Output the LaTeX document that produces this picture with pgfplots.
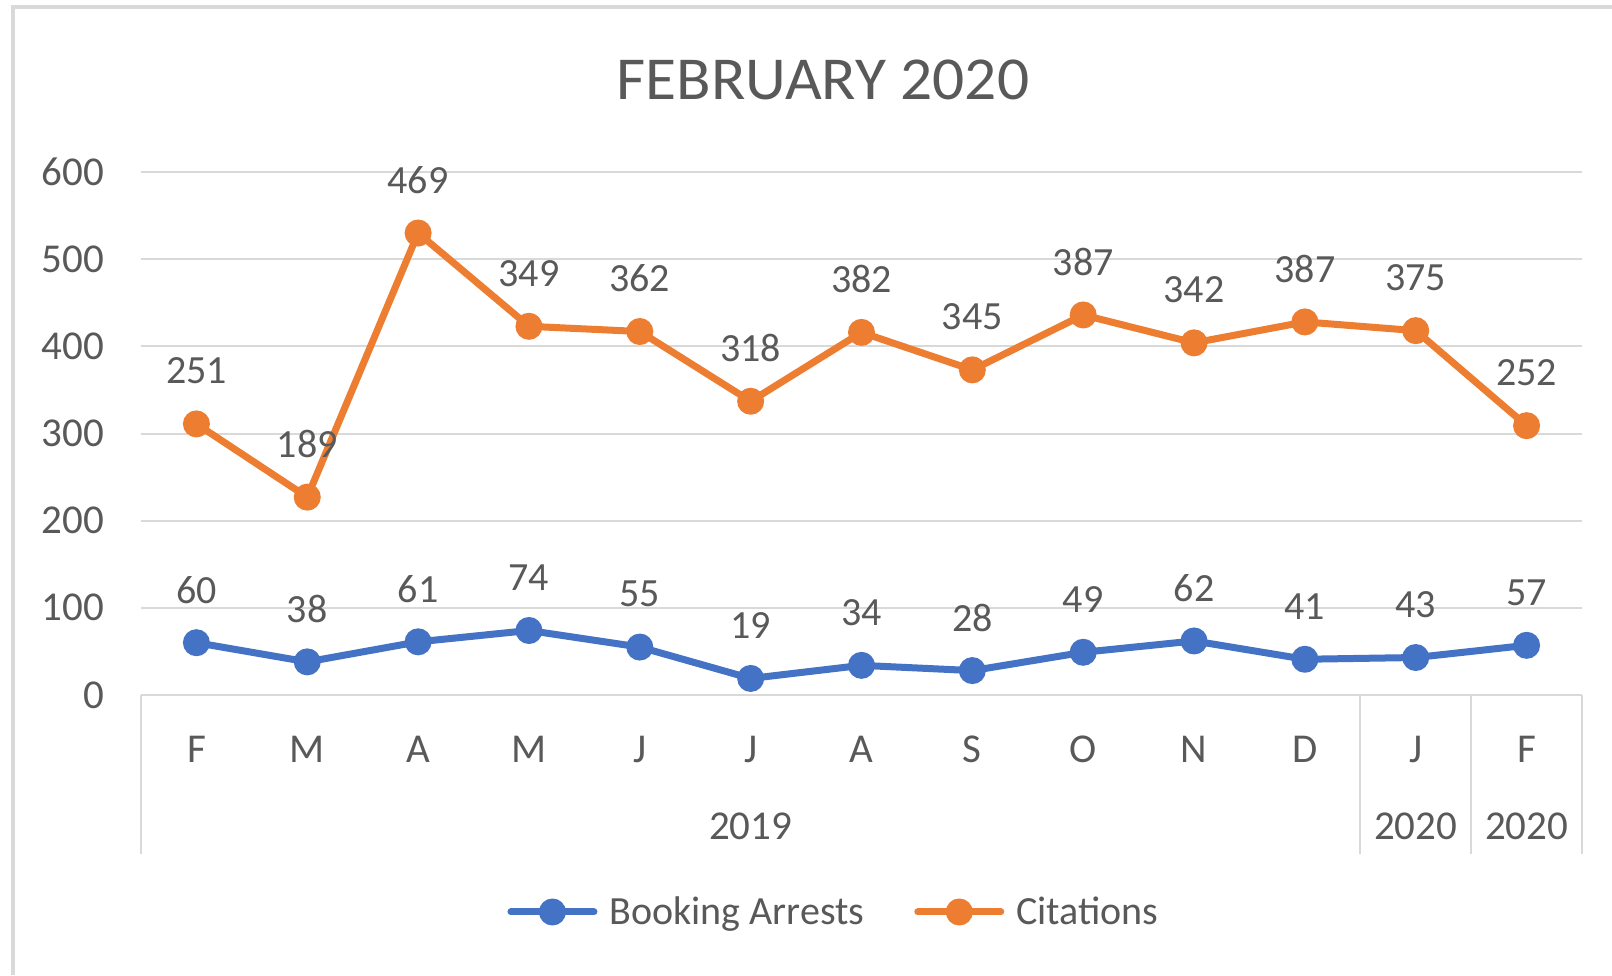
\documentclass[border=0pt]{standalone}
\usepackage{pgfplots}
\pgfplotsset{compat=1.18}
\usepackage{pgfplotstable}
\usepackage{fontspec}
\setmainfont{Carlito}
\newfontfamily\titlefont{Carlito}[FakeStretch=1.04]
\definecolor{cblue}{HTML}{4472C4}
\definecolor{corange}{HTML}{ED7D31}
\definecolor{tgray}{HTML}{595959}
\definecolor{lgray}{HTML}{D9D9D9}
\pgfplotstableread{
x ba ci
0 60 251
1 38 189
2 61 469
3 74 349
4 55 362
5 19 318
6 34 382
7 28 345
8 49 387
9 62 342
10 41 387
11 43 375
12 57 252
}\datatable
\begin{document}
\begin{tikzpicture}[x=0.5pt,y=0.5pt]
\useasboundingbox (0,0) rectangle (1612,975);
\fill[white] (0,0) rectangle (1612,975);
\draw[lgray, line width=2pt] (13,0) -- (13,968) -- (1612,968);
\begin{axis}[
  at={(70.5pt,140pt)}, anchor=south west,
  scale only axis, width=720.5pt, height=261.5pt,
  clip=false,
  stack plots=y,
  xmin=-0.5, xmax=12.5, ymin=0, ymax=600,
  xtick={0,...,12},
  xticklabels={F,M,A,M,J,J,A,S,O,N,D,J,F},
  ytick={0,100,...,600},
  ymajorgrids,
  grid style={lgray, line width=1pt},
  axis line style={draw=none},
  major tick length=0pt,
  tick pos=left,
  /pgf/number format/assume math mode=true,
  tick label style={font=\fontsize{20.5}{24}\selectfont, text=tgray},
  xticklabel style={anchor=base, inner sep=0pt, yshift=-33.5pt},
  yticklabel style={anchor=east, inner sep=0pt, xshift=-18.3pt},
  title={FEBRUARY 2020},
  title style={at={(axis description cs:0.4733,1.154)}, anchor=center, inner sep=0pt, font=\titlefont\fontsize{30.5}{36}\selectfont, text=tgray},
  every node near coord/.append style={anchor=center, yshift=26.5pt, inner sep=0pt, font=\fontsize{20}{24}\selectfont, text=tgray},
  legend columns=2,
  legend style={at={(axis description cs:0.2543,-0.4149)}, anchor=west, draw=none, fill=none, inner sep=0pt, outer sep=0pt,
    font=\fontsize{20}{24}\selectfont, text=tgray, nodes={inner sep=0pt},
    /tikz/every even column/.append style={column sep=25pt},
    /tikz/every odd column/.append style={column sep=6pt}},
  legend image code/.code={\draw[mark repeat=2,mark phase=2,#1,line cap=round] plot coordinates {(0pt,0pt) (20.75pt,0pt) (41.5pt,0pt)};},
]
\addplot[cblue, line width=3.5pt, line join=round, mark=*, mark size=6.25pt,
  mark options={fill=cblue, draw=cblue, line width=1pt},
  nodes near coords, point meta=explicit] table[x=x, y=ba, meta=ba] {\datatable};
\addlegendentry{Booking Arrests}
\addplot[corange, line width=3.5pt, line join=round, mark=*, mark size=6.25pt,
  mark options={fill=corange, draw=corange, line width=1pt},
  nodes near coords, point meta=explicit] table[x=x, y=ci, meta=ci] {\datatable};
\addlegendentry{Citations}
\draw[lgray, line width=1pt] (axis cs:-0.5,0) -- ++(0pt,-79.5pt);
\draw[lgray, line width=1pt] (axis cs:10.5,0) -- ++(0pt,-79.5pt);
\draw[lgray, line width=1pt] (axis cs:11.5,0) -- ++(0pt,-79.5pt);
\draw[lgray, line width=1pt] (axis cs:12.5,0) -- ++(0pt,-79.5pt);
\node[anchor=base, inner sep=0pt, yshift=-72pt, font=\fontsize{20.5}{24}\selectfont, text=tgray] at (axis cs:5,0) {2019};
\node[anchor=base, inner sep=0pt, yshift=-72pt, font=\fontsize{20.5}{24}\selectfont, text=tgray] at (axis cs:11,0) {2020};
\node[anchor=base, inner sep=0pt, yshift=-72pt, font=\fontsize{20.5}{24}\selectfont, text=tgray] at (axis cs:12,0) {2020};
\end{axis}
\end{tikzpicture}
\end{document}
